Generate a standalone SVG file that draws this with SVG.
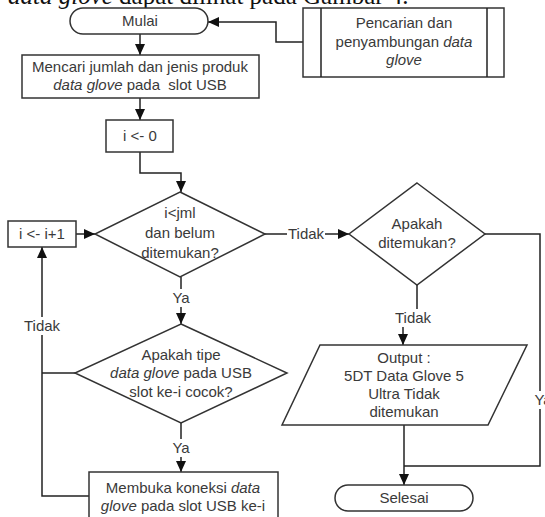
<svg xmlns="http://www.w3.org/2000/svg" width="545" height="517" viewBox="0 0 545 517">
<defs>
<marker id="ah" markerUnits="userSpaceOnUse" markerWidth="12" markerHeight="10" refX="11" refY="5" orient="auto">
<path d="M0,0 L11,5 L0,10 Z" fill="#111"/>
</marker>
</defs>
<style>
.s{fill:#fff;stroke:#333;stroke-width:1.5}
.c{fill:none;stroke:#222;stroke-width:1.5}
.t{font-family:"Liberation Sans",Arial,sans-serif;font-size:15px;fill:#3a3a3a;text-anchor:middle}
.lb{fill:#fff;stroke:none}
.hd{font-family:"Liberation Serif","Times New Roman",serif;font-size:25px;fill:#111}
</style>
<rect width="545" height="517" fill="#fff"/>
<text class="hd" x="8" y="4"><tspan font-style="italic">data glove</tspan> dapat dilihat pada Gambar 4.</text>

<g id="connectors">
<path class="c" d="M140,34 V55" marker-end="url(#ah)"/>
<path class="c" d="M140,98 V120" marker-end="url(#ah)"/>
<path class="c" d="M140,152 V173 H181 V192" marker-end="url(#ah)"/>
<path class="c" d="M303,42 H276 V22 H208" marker-end="url(#ah)"/>
<path class="c" d="M76,234 H95" marker-end="url(#ah)"/>
<path class="c" d="M265,234 H349" marker-end="url(#ah)"/>
<path class="c" d="M181,277 V324" marker-end="url(#ah)"/>
<path class="c" d="M181,423 V472" marker-end="url(#ah)"/>
<path class="c" d="M89,496 H42 V247" marker-end="url(#ah)"/>
<path class="c" d="M75,373 H42"/>
<path class="c" d="M417,285 V318 H403 V345" marker-end="url(#ah)"/>
<path class="c" d="M404,425 V485" marker-end="url(#ah)"/>
<path class="c" d="M485,234 H540 V466 H404"/>
<rect class="lb" x="287" y="225" width="38" height="17"/>
<text class="t" x="306" y="239">Tidak</text>
<rect class="lb" x="170" y="289" width="22" height="18"/>
<text class="t" x="181" y="303">Ya</text>
<rect class="lb" x="170" y="439" width="22" height="18"/>
<text class="t" x="181" y="453">Ya</text>
<rect class="lb" x="23" y="317" width="38" height="18"/>
<text class="t" x="42" y="331">Tidak</text>
<rect class="lb" x="394" y="309" width="38" height="18"/>
<text class="t" x="413" y="323">Tidak</text>
<rect class="lb" x="533" y="391" width="14" height="18"/>
<text class="t" x="543" y="405">Ya</text>
</g>

<g id="mulai">
<rect class="s" x="70" y="8" width="138" height="26" rx="13"/>
<text class="t" x="140" y="26">Mulai</text>
</g>
<g id="pencarian">
<rect class="s" x="303" y="8" width="201" height="69"/>
<path class="c" d="M321,8 V77 M487,8 V77"/>
<text class="t" x="404" y="28">Pencarian dan</text>
<text class="t" x="404" y="47">penyambungan <tspan font-style="italic">data</tspan></text>
<text class="t" x="404" y="65" font-style="italic">glove</text>
</g>
<g id="mencari">
<rect class="s" x="22" y="55" width="237" height="43"/>
<text class="t" x="140" y="72">Mencari jumlah dan jenis produk</text>
<text class="t" x="140" y="90" xml:space="preserve"><tspan font-style="italic">data glove</tspan> pada  slot USB</text>
</g>
<g id="init">
<rect class="s" x="106" y="120" width="67" height="32"/>
<text class="t" x="140" y="141">i &lt;- 0</text>
</g>
<g id="inc">
<rect class="s" x="8" y="221" width="68" height="26"/>
<text class="t" x="42" y="239">i &lt;- i+1</text>
</g>
<g id="cond1">
<polygon class="s" points="180,192 265,234 180,277 95,234"/>
<text class="t" x="180" y="218">i&lt;jml</text>
<text class="t" x="180" y="238">dan belum</text>
<text class="t" x="180" y="258">ditemukan?</text>
</g>
<g id="cond2">
<polygon class="s" points="181,324 287,373 181,423 75,373"/>
<text class="t" x="181" y="360">Apakah tipe</text>
<text class="t" x="181" y="378"><tspan font-style="italic">data glove</tspan> pada USB</text>
<text class="t" x="181" y="397">slot ke-i cocok?</text>
</g>
<g id="cond3">
<polygon class="s" points="417,183 485,234 417,285 349,234"/>
<text class="t" x="417" y="229">Apakah</text>
<text class="t" x="417" y="248">ditemukan?</text>
</g>
<g id="output">
<polygon class="s" points="320,345 527,345 488,425 282,425"/>
<text class="t" x="404" y="363">Output :</text>
<text class="t" x="404" y="381">5DT Data Glove 5</text>
<text class="t" x="404" y="399">Ultra Tidak</text>
<text class="t" x="404" y="417">ditemukan</text>
</g>
<g id="membuka">
<rect class="s" x="89" y="472" width="189" height="50"/>
<text class="t" x="183" y="493">Membuka koneksi <tspan font-style="italic">data</tspan></text>
<text class="t" x="183" y="511"><tspan font-style="italic">glove</tspan> pada slot USB ke-i</text>
</g>
<g id="selesai">
<rect class="s" x="335" y="485" width="138" height="26" rx="13"/>
<text class="t" x="404" y="503">Selesai</text>
</g>
</svg>
